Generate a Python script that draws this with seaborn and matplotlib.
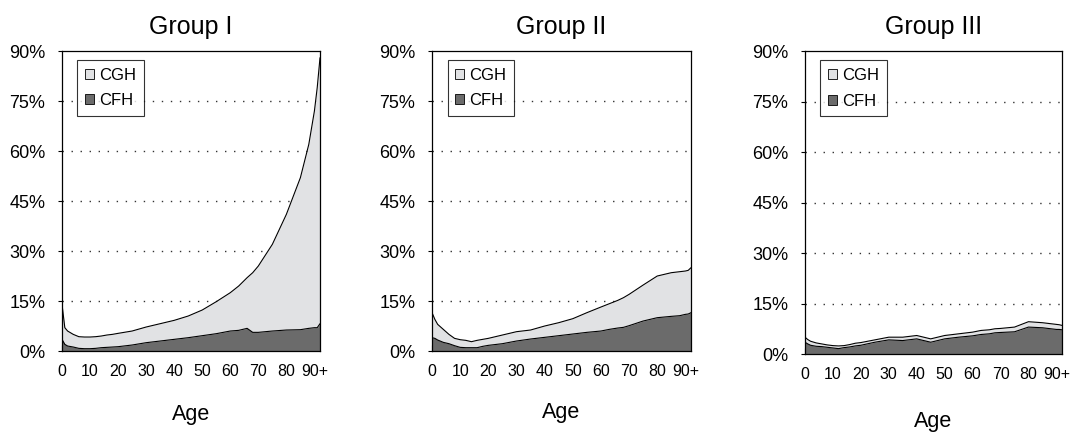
import numpy as np
import pandas as pd
import matplotlib
matplotlib.use("Agg")
import matplotlib.pyplot as plt
from matplotlib.patches import Patch
import seaborn as sns

# ages (last point stands for the 90+ bin edge)
ages = [0, 1, 2, 4, 6, 8, 10, 12, 14, 16, 18, 20, 25, 30, 35, 40, 45, 50,
        55, 60, 63, 66, 68, 70, 75, 80, 85, 88, 90, 91, 92]

# Group I
cfh_1 = [3.5, 2.0, 1.5, 1.2, 0.8, 0.7, 0.7, 0.8, 1.0, 1.1, 1.2, 1.3, 1.8, 2.5, 3.0, 3.5,
         4.0, 4.6, 5.2, 6.0, 6.2, 6.8, 5.6, 5.6, 6.0, 6.3, 6.4, 6.8, 7.0, 7.0, 8.2]
cgh_1 = [10.5, 5.0, 4.5, 3.8, 3.5, 3.5, 3.5, 3.5, 3.5, 3.7, 3.8, 4.0, 4.2, 4.7, 5.2, 5.7,
         6.5, 7.7, 9.6, 11.5, 13.3, 15.2, 17.9, 19.9, 26.0, 34.7, 45.6, 55.2, 65.0, 72.0, 79.8]

# Group II
cfh_2 = [4.0, 3.8, 3.3, 2.6, 2.2, 1.6, 1.1, 1.0, 1.0, 1.0, 1.4, 1.7, 2.2, 3.0, 3.6, 4.1,
         4.6, 5.1, 5.6, 6.0, 6.5, 6.9, 7.1, 7.6, 9.0, 10.0, 10.4, 10.6, 11.0, 11.1, 11.5]
cgh_2 = [7.5, 5.7, 4.7, 3.9, 2.8, 2.2, 2.3, 2.2, 1.8, 2.2, 2.1, 2.1, 2.6, 2.8, 2.7, 3.4,
         3.9, 4.6, 5.9, 7.2, 7.7, 8.3, 8.9, 9.4, 10.8, 12.5, 13.1, 13.2, 13.0, 13.1, 13.5]

# Group III
cfh_3 = [3.5, 3.0, 2.6, 2.3, 2.2, 2.0, 1.8, 1.6, 1.9, 2.1, 2.4, 2.6, 3.5, 4.2, 4.0, 4.5,
         3.5, 4.5, 5.0, 5.4, 5.8, 6.0, 6.3, 6.4, 6.6, 8.0, 7.8, 7.5, 7.3, 7.3, 7.2]
cgh_3 = [1.5, 1.3, 1.2, 1.0, 0.8, 0.7, 0.7, 0.8, 0.6, 0.7, 0.8, 0.8, 0.7, 0.8, 1.0, 1.0,
         1.0, 1.0, 1.0, 1.1, 1.2, 1.2, 1.2, 1.2, 1.4, 1.6, 1.5, 1.5, 1.5, 1.4, 1.3]

groups = ["Group I", "Group II", "Group III"]
cfh_all = [cfh_1, cfh_2, cfh_3]
cgh_all = [cgh_1, cgh_2, cgh_3]

x_ticks = [0, 10, 20, 30, 40, 50, 60, 70, 80, 90]
x_labels = ["0", "10", "20", "30", "40", "50", "60", "70", "80", "90+"]
y_ticks = [0, 15, 30, 45, 60, 75, 90]

sns.set_style("white")
plt.rcParams["font.family"] = ["Liberation Sans", "DejaVu Sans"]
plt.rcParams["text.color"] = "black"
plt.rcParams["xtick.color"] = "black"
plt.rcParams["ytick.color"] = "black"

fig = plt.figure(figsize=(10.71, 4.34), dpi=100)
positions = [
    [0.0579, 0.1912, 0.2409, 0.6912],
    [0.4034, 0.1912, 0.2418, 0.6912],
    [0.7516, 0.1843, 0.2400, 0.6980],
]
age_label_y = [0.044, 0.049, 0.028]

dark = "#6b6b6b"
light = "#e1e2e4"

for i, name in enumerate(groups):
    ax = fig.add_axes(positions[i])
    df = pd.DataFrame({"age": ages, "CFH": cfh_all[i], "CGH": cgh_all[i]})
    df["top"] = df["CFH"] + df["CGH"]

    ax.fill_between(df["age"], 0, df["top"], color=light, lw=0, zorder=2)
    ax.fill_between(df["age"], 0, df["CFH"], color=dark, lw=0, zorder=3)
    sns.lineplot(data=df, x="age", y="top", ax=ax, color="black", lw=0.8, zorder=4)
    sns.lineplot(data=df, x="age", y="CFH", ax=ax, color="black", lw=0.8, zorder=4)

    ax.set_xlim(0, 92)
    ax.set_ylim(0, 90)
    ax.set_yticks(y_ticks)
    ax.set_yticklabels([f"{v}%" for v in y_ticks], fontsize=13)
    ax.set_xticks(x_ticks)
    ax.set_xticks(np.arange(5, 95, 10), minor=True)
    ax.set_xticklabels(x_labels, fontsize=11.5)
    ax.tick_params(axis="x", which="both", direction="in", length=4, width=0.8,
                   color="black", bottom=True, pad=9)
    ax.tick_params(axis="y", direction="out", length=3, width=0.8, color="black",
                   left=True, pad=9)

    for yv in y_ticks[1:-1]:
        ax.axhline(yv, color="#333333", lw=1.0, ls=(0, (1, 5.5)), zorder=1)

    for s in ax.spines.values():
        s.set_visible(True)
        s.set_color("black")
        s.set_linewidth(0.9)
        s.set_zorder(5)

    ax.set_xlabel("")
    ax.set_ylabel("")
    ax.set_title(name, fontsize=18, pad=12)

    bb = positions[i]
    fig.text(bb[0] + bb[2] / 2, age_label_y[i], "Age", ha="center", va="center", fontsize=15.5)

    handles = [Patch(facecolor=light, edgecolor="black", lw=0.6, label="CGH"),
               Patch(facecolor=dark, edgecolor="black", lw=0.6, label="CFH")]
    leg = ax.legend(handles=handles, loc="upper left", bbox_to_anchor=(0.06, 0.97),
                    fontsize=12, frameon=True, fancybox=False, handlelength=0.55,
                    handleheight=0.55, handletextpad=0.3, labelspacing=0.65,
                    borderpad=0.45, borderaxespad=0)
    leg.get_frame().set_edgecolor("black")
    leg.get_frame().set_linewidth(0.8)
    leg.set_zorder(6)

fig.savefig("out.png", dpi=100)
